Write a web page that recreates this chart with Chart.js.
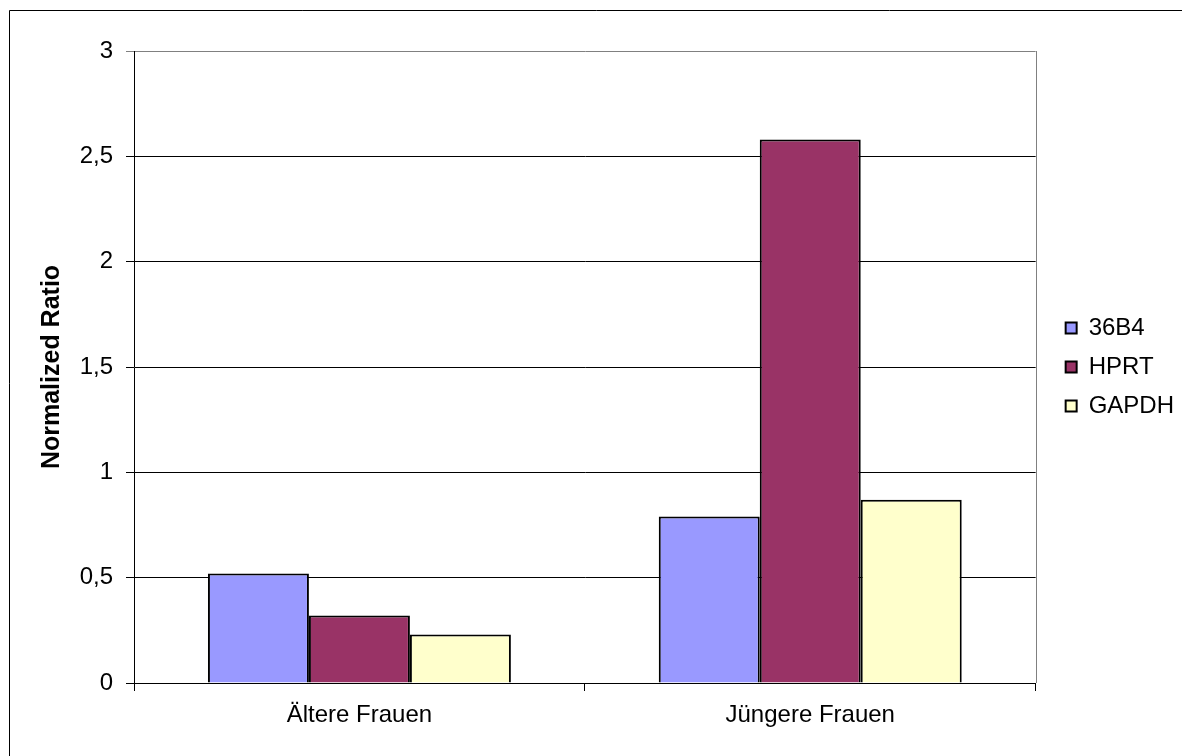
<!DOCTYPE html>
<html>
<head>
<meta charset="utf-8">
<script src="https://cdn.jsdelivr.net/npm/chart.js@4"></script>
<style>
    html, body { margin: 0; padding: 0; background: #fff; }
    canvas { display: block; }
</style>
</head>
<body>
<canvas id="chart" width="1182" height="756"></canvas>
<script>
// chart data
const categories = ['Ältere Frauen', 'Jüngere Frauen'];
const values36B4 = [0.52, 0.79];
const valuesHPRT = [0.32, 2.58];
const valuesGAPDH = [0.23, 0.87];
const yTicks = [0, 0.5, 1, 1.5, 2, 2.5, 3];

const FONT = "'Liberation Sans', Arial, sans-serif";

// outer frame, gray plot border on the right, legend nudge
const framePlugin = {
    id: 'frame',
    afterLayout(chart) {
        chart.legend.left += 15;
        chart.legend.right += 15;
    },
    beforeDraw(chart) {
        const ctx = chart.ctx;
        ctx.save();
        ctx.strokeStyle = '#000';
        ctx.lineWidth = 1;
        ctx.beginPath();
        ctx.moveTo(9.5, chart.height + 5);
        ctx.lineTo(9.5, 10.5);
        ctx.lineTo(chart.width + 5, 10.5);
        ctx.stroke();
        ctx.restore();
    },
    beforeDatasetsDraw(chart) {
        const {ctx, chartArea} = chart;
        const x = Math.round(chartArea.right) + 0.5;
        ctx.save();
        ctx.strokeStyle = '#808080';
        ctx.lineWidth = 1;
        ctx.beginPath();
        ctx.moveTo(x, chartArea.top);
        ctx.lineTo(x, chartArea.bottom);
        ctx.stroke();
        ctx.restore();
    }
};

new Chart(document.getElementById('chart'), {
    type: 'bar',
    data: {
        labels: categories,
        datasets: [
            { label: '36B4', data: values36B4, backgroundColor: '#9999FF' },
            { label: 'HPRT', data: valuesHPRT, backgroundColor: '#993366' },
            { label: 'GAPDH', data: valuesGAPDH, backgroundColor: '#FFFFCC' }
        ].map(d => Object.assign(d, { borderColor: '#000', borderWidth: 2 }))
    },
    options: {
        responsive: false,
        animation: false,
        categoryPercentage: 0.672,
        barPercentage: 1,
        layout: { padding: { left: 10, top: 51, right: 13, bottom: 10 } },
        plugins: {
            tooltip: { enabled: false },
            legend: {
                position: 'right',
                fullSize: false,
                labels: {
                    color: '#000',
                    font: { family: FONT, size: 24 },
                    boxWidth: 11,
                    boxHeight: 11,
                    padding: 15
                }
            }
        },
        scales: {
            x: {
                grid: { drawOnChartArea: false, drawTicks: true, tickLength: 8, color: '#000', offset: true },
                border: { color: '#000', width: 1 },
                ticks: { color: '#000', font: { family: FONT, size: 24 }, padding: 10, maxRotation: 0 },
                afterFit(scale) { scale.height = 63; }
            },
            y: {
                min: 0,
                max: 3,
                afterBuildTicks(scale) { scale.ticks = yTicks.map(v => ({ value: v })); },
                grid: {
                    tickLength: 8,
                    color: c => (c.tick && c.tick.value === 3 ? '#808080' : '#000')
                },
                border: { color: '#000', width: 1 },
                ticks: {
                    color: '#000',
                    font: { family: FONT, size: 24 },
                    padding: 13,
                    callback: v => String(v).replace('.', ',')
                },
                title: {
                    display: true,
                    text: 'Normalized Ratio',
                    color: '#000',
                    font: { family: FONT, size: 25, weight: 'bold' },
                    padding: { top: 27, bottom: 0 }
                },
                afterFit(scale) { scale.width = 124; }
            }
        }
    },
    plugins: [framePlugin]
});
</script>
</body>
</html>
